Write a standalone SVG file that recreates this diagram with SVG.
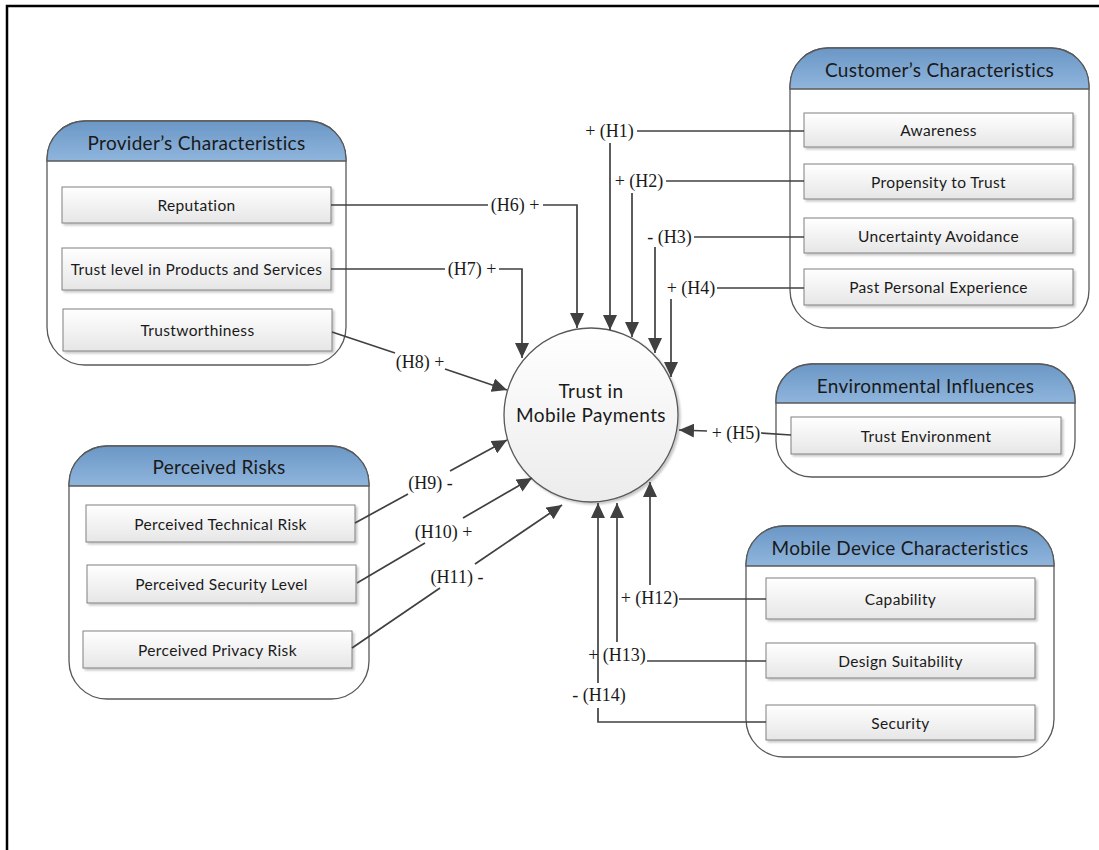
<svg xmlns="http://www.w3.org/2000/svg" width="1099" height="850" viewBox="0 0 1099 850">
  <style>
    .grp { fill: #ffffff; stroke: #595959; stroke-width: 1.3; }
    .hdr { fill: url(#hdrGrad); stroke: #595959; stroke-width: 1.3; }
    .ttl { font-family: Lato, "Liberation Sans", sans-serif; font-size: 19px; letter-spacing: 0.3px; fill: #1a1a1a; text-anchor: middle; dominant-baseline: central; }
    .box { fill: url(#boxGrad); stroke: #808080; stroke-width: 1; filter: url(#shadow); }
    .itm { font-family: Lato, "Liberation Sans", sans-serif; font-size: 15.5px; letter-spacing: 0.35px; fill: #1a1a1a; text-anchor: middle; dominant-baseline: central; }
    .lnk { fill: none; stroke: #404040; stroke-width: 1.7; }
    .arr { marker-end: url(#head); }
    .lbl { font-family: "Liberation Serif", serif; font-size: 18px; fill: #1a1a1a; text-anchor: middle; dominant-baseline: central; }
    .hub { fill: url(#hubGrad); stroke: #595959; stroke-width: 1.3; filter: url(#shadow); }
    .hubt { font-family: Lato, "Liberation Sans", sans-serif; font-size: 19px; letter-spacing: 0.4px; fill: #1a1a1a; text-anchor: middle; dominant-baseline: central; }
  </style>
  <defs>
    <linearGradient id="hdrGrad" x1="0" y1="0" x2="0" y2="1">
      <stop offset="0" stop-color="#6b97c6"/>
      <stop offset="1" stop-color="#8fb5dc"/>
    </linearGradient>
    <linearGradient id="boxGrad" x1="0" y1="0" x2="0" y2="1">
      <stop offset="0" stop-color="#ffffff"/>
      <stop offset="1" stop-color="#e6e6e6"/>
    </linearGradient>
    <linearGradient id="hubGrad" x1="0" y1="0" x2="0" y2="1">
      <stop offset="0" stop-color="#ffffff"/>
      <stop offset="1" stop-color="#ececec"/>
    </linearGradient>
    <filter id="shadow" x="-10%" y="-10%" width="130%" height="140%">
      <feDropShadow dx="2" dy="2" stdDeviation="1" flood-color="#000000" flood-opacity="0.22"/>
    </filter>
    <marker id="head" markerUnits="userSpaceOnUse" markerWidth="16" markerHeight="14" refX="15" refY="7" orient="auto">
      <path d="M0,0 L15,7 L0,14 Z" fill="#404040"/>
    </marker>
  </defs>

  <!-- page frame -->
  <path d="M7,850 V6 H1099" fill="none" stroke="#000000" stroke-width="2.5"/>

  <!-- Provider's Characteristics -->
  <g id="provider">
    <rect class="grp" x="47" y="121" width="299" height="244" rx="38" ry="38"/>
    <path class="hdr" d="M47,161 V159 A38,38 0 0 1 85,121 H308 A38,38 0 0 1 346,159 V161 Z"/>
    <text class="ttl" x="196.5" y="142">Provider’s Characteristics</text>
    <g id="reputation"><rect class="box" x="62" y="187" width="269" height="36"/><text class="itm" x="196.5" y="205">Reputation</text></g>
    <g id="trust-level"><rect class="box" x="62" y="248" width="269" height="42"/><text class="itm" x="196.5" y="269">Trust level in Products and Services</text></g>
    <g id="trustworthiness"><rect class="box" x="63" y="309" width="269" height="42"/><text class="itm" x="197.5" y="330">Trustworthiness</text></g>
  </g>

  <!-- Customer's Characteristics -->
  <g id="customer">
    <rect class="grp" x="790" y="48" width="299" height="280" rx="38" ry="38"/>
    <path class="hdr" d="M790,89 V86 A38,38 0 0 1 828,48 H1051 A38,38 0 0 1 1089,86 V89 Z"/>
    <text class="ttl" x="939.5" y="69">Customer’s Characteristics</text>
    <g id="awareness"><rect class="box" x="804" y="113" width="269" height="34"/><text class="itm" x="938.5" y="130">Awareness</text></g>
    <g id="propensity"><rect class="box" x="804" y="164" width="269" height="35"/><text class="itm" x="938.5" y="181.5">Propensity to Trust</text></g>
    <g id="uncertainty"><rect class="box" x="804" y="218" width="269" height="35"/><text class="itm" x="938.5" y="235.5">Uncertainty Avoidance</text></g>
    <g id="past-experience"><rect class="box" x="804" y="269" width="269" height="36"/><text class="itm" x="938.5" y="287">Past Personal Experience</text></g>
  </g>

  <!-- Environmental Influences -->
  <g id="environment">
    <rect class="grp" x="776" y="364" width="299" height="113" rx="36" ry="36"/>
    <path class="hdr" d="M776,403 V400 A36,36 0 0 1 812,364 H1039 A36,36 0 0 1 1075,400 V403 Z"/>
    <text class="ttl" x="925.5" y="385">Environmental Influences</text>
    <g id="trust-environment"><rect class="box" x="791" y="417" width="270" height="37"/><text class="itm" x="926" y="435.5">Trust Environment</text></g>
  </g>

  <!-- Perceived Risks -->
  <g id="risks">
    <rect class="grp" x="69" y="446" width="300" height="253" rx="38" ry="38"/>
    <path class="hdr" d="M69,486 V484 A38,38 0 0 1 107,446 H331 A38,38 0 0 1 369,484 V486 Z"/>
    <text class="ttl" x="219" y="466">Perceived Risks</text>
    <g id="technical-risk"><rect class="box" x="86" y="505" width="269" height="37"/><text class="itm" x="220.5" y="523.5">Perceived Technical Risk</text></g>
    <g id="security-level"><rect class="box" x="87" y="565" width="269" height="38"/><text class="itm" x="221.5" y="584">Perceived Security Level</text></g>
    <g id="privacy-risk"><rect class="box" x="83" y="631" width="269" height="37"/><text class="itm" x="217.5" y="649.5">Perceived Privacy Risk</text></g>
  </g>

  <!-- Mobile Device Characteristics -->
  <g id="device">
    <rect class="grp" x="746" y="526" width="308" height="231" rx="38" ry="38"/>
    <path class="hdr" d="M746,566 V564 A38,38 0 0 1 784,526 H1016 A38,38 0 0 1 1054,564 V566 Z"/>
    <text class="ttl" x="900" y="547">Mobile Device Characteristics</text>
    <g id="capability"><rect class="box" x="766" y="578" width="269" height="41"/><text class="itm" x="900.5" y="598.5">Capability</text></g>
    <g id="design"><rect class="box" x="766" y="643" width="269" height="35"/><text class="itm" x="900.5" y="660.5">Design Suitability</text></g>
    <g id="security"><rect class="box" x="766" y="705" width="269" height="35"/><text class="itm" x="900.5" y="722.5">Security</text></g>
  </g>

  <!-- central construct -->
  <g id="trust-mobile-payments">
    <circle class="hub" cx="591" cy="415" r="87"/>
    <text class="hubt" x="591" y="390">Trust in</text>
    <text class="hubt" x="591" y="414">Mobile Payments</text>
  </g>

  <!-- hypothesis connectors -->
  <g id="connectors">
    <path class="lnk" d="M804,131 H637"/>
    <path class="lnk arr" d="M610,143 V330"/>
    <path class="lnk" d="M804,181 H666"/>
    <path class="lnk arr" d="M632,193 V337"/>
    <path class="lnk" d="M804,237 H694"/>
    <path class="lnk arr" d="M655,247 V353"/>
    <path class="lnk" d="M804,288 H717"/>
    <path class="lnk arr" d="M671,299 V377"/>

    <path class="lnk" d="M331,205 H488"/>
    <path class="lnk arr" d="M543,205 H577 V328"/>
    <path class="lnk" d="M331,269 H445"/>
    <path class="lnk arr" d="M499,269 H522 V358"/>
    <path class="lnk" d="M332,332 L395,353"/>
    <path class="lnk arr" d="M445,369 L507,390"/>

    <path class="lnk" d="M355,523 L408,494"/>
    <path class="lnk arr" d="M450,471 L507,440"/>
    <path class="lnk" d="M357,583 L425,543"/>
    <path class="lnk arr" d="M463,518 L532,478"/>
    <path class="lnk" d="M352,648 L440,588"/>
    <path class="lnk arr" d="M475,564 L562,505"/>

    <path class="lnk" d="M791,435 L761,433"/>
    <path class="lnk arr" d="M707,431 L679,430"/>

    <path class="lnk" d="M766,599 H679"/>
    <path class="lnk arr" d="M650,585 V482"/>
    <path class="lnk" d="M766,661 H647"/>
    <path class="lnk arr" d="M617,642 V503"/>
    <path class="lnk" d="M766,722 H598 V708"/>
    <path class="lnk arr" d="M598,683 V503"/>

    <text class="lbl" x="609.5" y="131">+ (H1)</text>
    <text class="lbl" x="639" y="181">+ (H2)</text>
    <text class="lbl" x="669.5" y="237">- (H3)</text>
    <text class="lbl" x="691" y="288">+ (H4)</text>
    <text class="lbl" x="736" y="433">+ (H5)</text>
    <text class="lbl" x="515" y="205">(H6) +</text>
    <text class="lbl" x="472" y="269">(H7) +</text>
    <text class="lbl" x="420" y="362">(H8) +</text>
    <text class="lbl" x="430.5" y="483">(H9) -</text>
    <text class="lbl" x="443.5" y="532">(H10) +</text>
    <text class="lbl" x="457" y="577">(H11) -</text>
    <text class="lbl" x="649.5" y="598">+ (H12)</text>
    <text class="lbl" x="617" y="655">+ (H13)</text>
    <text class="lbl" x="599" y="695">- (H14)</text>
  </g>
</svg>
